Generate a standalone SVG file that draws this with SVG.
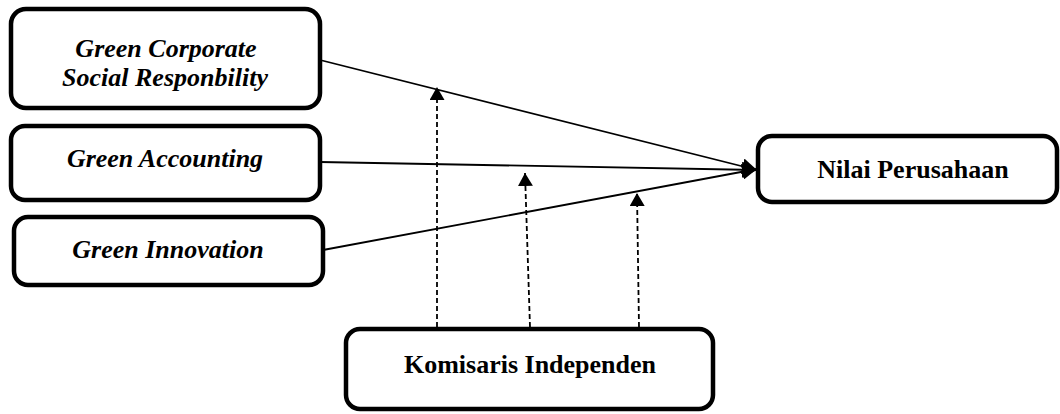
<svg xmlns="http://www.w3.org/2000/svg" width="1060" height="414" viewBox="0 0 1060 414">
<style>
.box{fill:#fff;stroke:#000;stroke-width:4.5}
.t{font-family:"Liberation Serif","Times New Roman",serif;font-size:26px;font-weight:bold;text-anchor:middle;fill:#000}
.i{font-style:italic}
.solid{stroke:#000;stroke-width:1.8;fill:none}
.dash{stroke:#000;stroke-width:1.8;stroke-dasharray:5,3;fill:none}
</style>
<defs>
<marker id="ah" markerUnits="userSpaceOnUse" markerWidth="15" markerHeight="16" refX="15" refY="8" orient="auto" viewBox="0 0 15 16">
<path d="M0,0 L15,8 L0,16 z" fill="#000"/>
</marker>
<marker id="au" markerUnits="userSpaceOnUse" markerWidth="13" markerHeight="15" refX="13" refY="7.5" orient="auto" viewBox="0 0 13 15">
<path d="M0,0 L13,7.5 L0,15 z" fill="#000"/>
</marker>
</defs>
<g id="connectors">
<line class="solid" x1="322" y1="60.5" x2="757" y2="170" marker-end="url(#ah)"/>
<line class="solid" x1="320" y1="162" x2="757" y2="170" marker-end="url(#ah)"/>
<line class="solid" x1="323" y1="250" x2="757" y2="169" marker-end="url(#ah)"/>
<line class="dash" x1="437" y1="327" x2="437" y2="87" marker-end="url(#au)"/>
<line class="dash" x1="530" y1="327" x2="525" y2="173" marker-end="url(#au)"/>
<line class="dash" x1="639" y1="327" x2="637" y2="193" marker-end="url(#au)"/>
</g>
<g id="gcsr">
<rect class="box" x="11" y="9" width="309" height="99" rx="15"/>
<text class="t i" x="166" y="57">Green Corporate</text>
<text class="t i" x="165" y="86">Social Responbility</text>
</g>
<g id="ga">
<rect class="box" x="11" y="126" width="309" height="74" rx="14"/>
<text class="t i" x="165" y="167">Green Accounting</text>
</g>
<g id="gi">
<rect class="box" x="14" y="217" width="309" height="68" rx="14"/>
<text class="t i" x="168" y="258">Green Innovation</text>
</g>
<g id="nilai">
<rect class="box" x="758" y="136" width="299" height="66" rx="14"/>
<text class="t" x="913" y="178">Nilai Perusahaan</text>
</g>
<g id="komisaris">
<rect class="box" x="346" y="329" width="367" height="80" rx="14"/>
<text class="t" x="530" y="373">Komisaris Independen</text>
</g>
</svg>
